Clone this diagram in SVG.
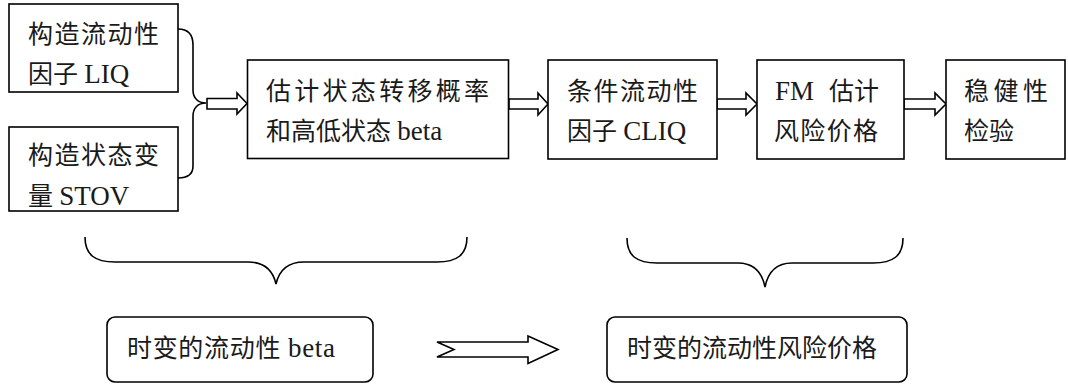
<svg xmlns="http://www.w3.org/2000/svg" width="1068" height="385" viewBox="0 0 1068 385">
<style>
.box{fill:#fff;stroke:#000;stroke-width:1.6}
.t{font-family:"Liberation Serif","Noto Sans CJK SC",serif;font-size:25px;fill:#1a1a1a}
.l{font-size:27px}
.c{fill:none;stroke:#000;stroke-width:1.6;stroke-linejoin:miter}
.ha{fill:#fff;stroke:#000;stroke-width:1.6}
</style>
<rect width="1068" height="385" fill="#fff"/>
<g id="connectors">
<path class="c" d="M178,29 C188,29 193,35 193,45 L193,90 C193,98 198,103 206,103 C198,103 193,108 193,116 L193,166 C193,174 188,178 178,178"/>
<polygon class="ha" points="207,98.5 237,98.5 237,93 247,103.5 237,114 237,109 207,109"/>
<polygon class="ha" points="509,99 538,99 538,93 548,104 538,115 538,109 509,109"/>
<polygon class="ha" points="717,99 746,99 746,93 757,104 746,115 746,109 717,109"/>
<polygon class="ha" points="904,99 935,99 935,93 946,104 935,115 935,109 904,109"/>
<path class="c" d="M85,237 C85,255 95,262 115,262 L248,262 C265,262 273,271 276,284 C279,271 287,262 304,262 L437,262 C457,262 467,255 467,237"/>
<path class="c" d="M627,238 C627,256 637,263 657,263 L738,263 C753,263 762,272 765,287 C768,272 777,263 792,263 L873,263 C893,263 903,256 903,238"/>
<polygon class="ha" points="437,342 528,342 528,336 558,349.5 528,363.5 528,357 437,357 454,349.5"/>
</g>
<g id="n1">
<rect class="box" x="9" y="4" width="169" height="88"/>
<text class="t" x="28" y="43" textLength="131" lengthAdjust="spacing">构造流动性</text>
<text class="t" x="28" y="83">因子 <tspan class="l">LIQ</tspan></text>
</g>
<g id="n2">
<rect class="box" x="9" y="127" width="169" height="84"/>
<text class="t" x="28" y="164" textLength="131" lengthAdjust="spacing">构造状态变</text>
<text class="t" x="28" y="205">量 <tspan class="l">STOV</tspan></text>
</g>
<g id="n3">
<rect class="box" x="247.5" y="60" width="261" height="98.5"/>
<text class="t" x="266" y="100" textLength="223" lengthAdjust="spacing">估计状态转移概率</text>
<text class="t" x="266" y="140">和高低状态 <tspan class="l">beta</tspan></text>
</g>
<g id="n4">
<rect class="box" x="548" y="60" width="169" height="99"/>
<text class="t" x="567" y="100" textLength="131" lengthAdjust="spacing">条件流动性</text>
<text class="t" x="567" y="140">因子 <tspan class="l">CLIQ</tspan></text>
</g>
<g id="n5">
<rect class="box" x="757" y="60" width="147" height="99"/>
<text class="t" y="100"><tspan x="775" class="l">FM </tspan><tspan x="829" textLength="50" lengthAdjust="spacing">估计</tspan></text>
<text class="t" x="774" y="140" textLength="104" lengthAdjust="spacing">风险价格</text>
</g>
<g id="n6">
<rect class="box" x="946" y="60" width="119" height="99"/>
<text class="t" x="964" y="100" textLength="84" lengthAdjust="spacing">稳健性</text>
<text class="t" x="964" y="140">检验</text>
</g>
<g id="n7">
<rect class="box" x="107" y="317" width="266" height="65" rx="8"/>
<text class="t" x="127" y="357" textLength="208" lengthAdjust="spacing">时变的流动性 <tspan class="l">beta</tspan></text>
</g>
<g id="n8">
<rect class="box" x="607" y="317" width="300" height="65" rx="8"/>
<text class="t" x="627" y="357">时变的流动性风险价格</text>
</g>
</svg>
